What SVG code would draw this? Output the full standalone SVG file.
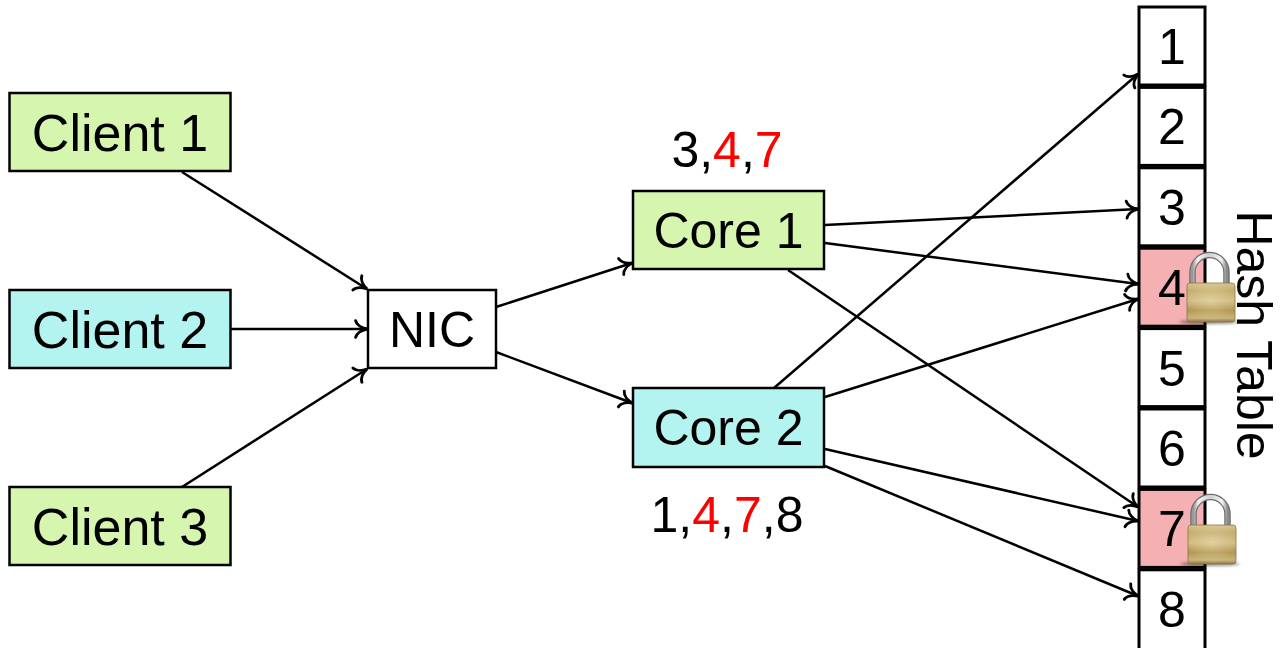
<svg xmlns="http://www.w3.org/2000/svg" width="1283" height="648" viewBox="0 0 1283 648">
<style>
text{font-family:"Liberation Sans",Arial,sans-serif;font-size:50px;fill:#000}
.big{font-size:52px}
.box{stroke:#000;stroke-width:2.5}
.green{fill:#d6f5ae}
.cyan{fill:#b3f3f0}
.white{fill:#fff}
.cell{fill:#fff;stroke:#000;stroke-width:3}
.locked{fill:#f5b0b4}
.red{fill:#ff0000}
.conn line{stroke:#000;stroke-width:2.5;marker-end:url(#arr)}
</style>
<defs>
<marker id="arr" markerUnits="userSpaceOnUse" markerWidth="24" markerHeight="24" viewBox="-12 -10 14 20" refX="0" refY="0" orient="auto" overflow="visible">
<path d="M-9.5,-7 C-8.5,-3 -3.5,-0.7 0,0 C-3.5,0.7 -8.5,3 -9.5,7" fill="none" stroke="#000" stroke-width="2.4" stroke-linecap="round"/>
</marker>
<linearGradient id="gold" x1="0" y1="0" x2="0" y2="1">
<stop offset="0" stop-color="#d8c690"/>
<stop offset="0.2" stop-color="#c2ab6c"/>
<stop offset="0.45" stop-color="#d0bc82"/>
<stop offset="0.7" stop-color="#b09550"/>
<stop offset="0.9" stop-color="#c9b57c"/>
<stop offset="1" stop-color="#8e7840"/>
</linearGradient>
<radialGradient id="goldhl" cx="0.5" cy="0.45" r="0.55">
<stop offset="0" stop-color="#fff4d0" stop-opacity="0.35"/>
<stop offset="1" stop-color="#fff4d0" stop-opacity="0"/>
</radialGradient>
<linearGradient id="silver" x1="0" y1="0" x2="1" y2="0">
<stop offset="0" stop-color="#9a9a9a"/>
<stop offset="0.15" stop-color="#f2f2f2"/>
<stop offset="0.5" stop-color="#d0d0d0"/>
<stop offset="0.85" stop-color="#f4f4f4"/>
<stop offset="1" stop-color="#8a8a8a"/>
</linearGradient>
<filter id="blur" x="-20%" y="-200%" width="140%" height="500%"><feGaussianBlur stdDeviation="1.5"/></filter>
<g id="lock">
<ellipse cx="22" cy="39" rx="30" ry="2" fill="#000" opacity="0.45" filter="url(#blur)"/>
<path d="M5.5,3 V-11 A17,17 0 0 1 39.5,-11 V3" fill="none" stroke="#6e6e6e" stroke-width="6.5"/>
<path d="M5.5,3 V-11 A17,17 0 0 1 39.5,-11 V3" fill="none" stroke="url(#silver)" stroke-width="4"/>
<rect x="0" y="0" width="48" height="39" rx="3" fill="url(#gold)" stroke="#8a7440" stroke-width="0.8"/>
<rect x="0" y="0" width="48" height="39" rx="3" fill="url(#goldhl)"/>
</g>
</defs>

<g class="conn" id="connectors">
<line x1="182" y1="172" x2="367" y2="289"/>
<line x1="231" y1="329" x2="367" y2="329"/>
<line x1="182" y1="487" x2="367" y2="369"/>
<line x1="496" y1="307" x2="632" y2="263"/>
<line x1="496" y1="352" x2="632" y2="403"/>
<line x1="825" y1="225" x2="1138" y2="209"/>
<line x1="825" y1="243" x2="1138" y2="284"/>
<line x1="788" y1="270" x2="1138" y2="507"/>
<line x1="774" y1="388" x2="1138" y2="74"/>
<line x1="825" y1="397" x2="1138" y2="299"/>
<line x1="825" y1="449" x2="1138" y2="521"/>
<line x1="825" y1="466" x2="1138" y2="596"/>
</g>

<g id="client1"><rect class="box green" x="9.5" y="93" width="221" height="78"/><text class="big" x="120" y="151" text-anchor="middle">Client 1</text></g>
<g id="client2"><rect class="box cyan" x="9.5" y="290" width="221" height="78"/><text class="big" x="120" y="348" text-anchor="middle">Client 2</text></g>
<g id="client3"><rect class="box green" x="9.5" y="487" width="221" height="78"/><text class="big" x="120" y="545" text-anchor="middle">Client 3</text></g>
<g id="nic"><rect class="box white" x="368" y="290" width="128" height="78"/><text x="432" y="347" text-anchor="middle">NIC</text></g>
<g id="core1"><rect class="box green" x="633" y="191" width="191" height="78"/><text x="728.5" y="248" text-anchor="middle">Core 1</text></g>
<g id="core2"><rect class="box cyan" x="633" y="388" width="191" height="79"/><text x="728.5" y="445" text-anchor="middle">Core 2</text></g>
<g id="label-core1"><text x="727" y="167" text-anchor="middle">3,<tspan class="red">4</tspan>,<tspan class="red">7</tspan></text></g>
<g id="label-core2"><text x="727" y="532" text-anchor="middle">1,<tspan class="red">4</tspan>,<tspan class="red">7</tspan>,8</text></g>

<g id="hashtable">
<g id="cell1"><rect class="cell" x="1139" y="7" width="66" height="78"/><text x="1172" y="64" text-anchor="middle">1</text></g>
<g id="cell2"><rect class="cell" x="1139" y="87.4" width="66" height="78"/><text x="1172" y="144.4" text-anchor="middle">2</text></g>
<g id="cell3"><rect class="cell" x="1139" y="167.8" width="66" height="78"/><text x="1172" y="224.8" text-anchor="middle">3</text></g>
<g id="cell4"><rect class="cell locked" x="1139" y="248.2" width="66" height="78"/><text x="1172" y="305.2" text-anchor="middle">4</text></g>
<g id="cell5"><rect class="cell" x="1139" y="328.6" width="66" height="78"/><text x="1172" y="385.6" text-anchor="middle">5</text></g>
<g id="cell6"><rect class="cell" x="1139" y="409" width="66" height="78"/><text x="1172" y="466" text-anchor="middle">6</text></g>
<g id="cell7"><rect class="cell locked" x="1139" y="489.4" width="66" height="78"/><text x="1172" y="546.4" text-anchor="middle">7</text></g>
<g id="cell8"><rect class="cell" x="1139" y="569.8" width="66" height="80"/><text x="1172" y="626.8" text-anchor="middle">8</text></g>
<text transform="translate(1237,335) rotate(90)" text-anchor="middle">Hash Table</text>
</g>

<g id="locks">
<use href="#lock" transform="translate(1187,283)"/>
<use href="#lock" transform="translate(1188,525)"/>
</g>
</svg>
